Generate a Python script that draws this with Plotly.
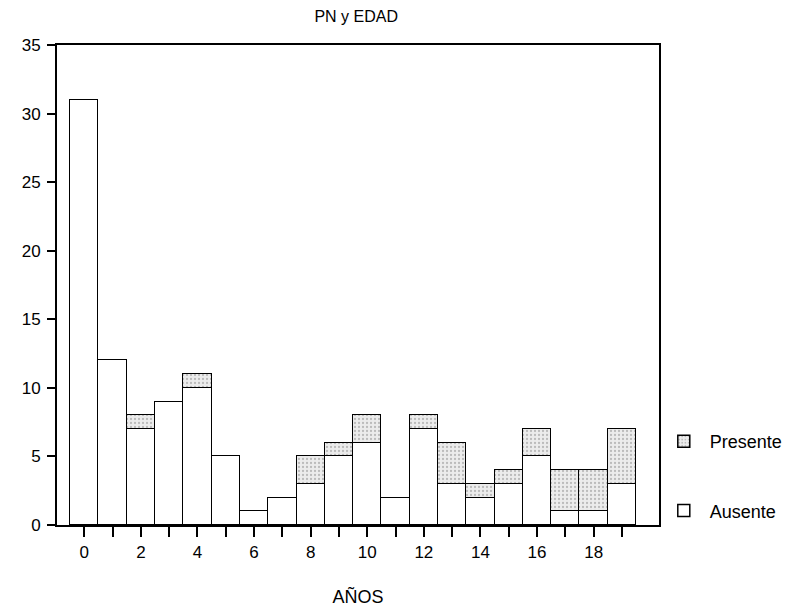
import plotly.graph_objects as go

ages = list(range(20))
ausente = [31, 12, 7, 9, 10, 5, 1, 2, 3, 5, 6, 2, 7, 3, 2, 3, 5, 1, 1, 3]
presente = [0, 0, 1, 0, 1, 0, 0, 0, 2, 1, 2, 0, 1, 3, 1, 1, 2, 3, 3, 4]
tick_labels = [str(a) if a % 2 == 0 else "" for a in ages]
y_ticks = [0, 5, 10, 15, 20, 25, 30, 35]

font = "Liberation Sans, Arial, Helvetica, sans-serif"

fig = go.Figure()
fig.add_trace(go.Bar(
    x=ages, y=ausente, name="Ausente", legendgroup="a", legendrank=2,
    marker=dict(color="white", line=dict(color="black", width=1.5)),
))
fig.add_trace(go.Bar(
    x=ages, y=presente, name="Presente", legendgroup="p", legendrank=1,
    marker=dict(color="#e4e4e4", line=dict(color="black", width=1.5),
                pattern=dict(shape=".", fgcolor="#8a8a8a", bgcolor="#ececec",
                             size=4, solidity=0.25)),
))

fig.update_layout(
    barmode="stack", bargap=0,
    width=802, height=599,
    paper_bgcolor="white", plot_bgcolor="white",
    margin=dict(l=49, r=151, t=37, b=82, autoexpand=False),
    font=dict(family=font, size=17, color="black"),
    title=dict(text="PN y EDAD", xref="paper", x=0.497, xanchor="center",
               yref="container", y=1.0, yanchor="top",
               pad=dict(t=3, b=0), font=dict(size=16)),
    showlegend=True,
    legend=dict(x=0.998, xanchor="left", y=0.2125, yanchor="top",
                traceorder="grouped", tracegroupgap=43,
                font=dict(size=18), itemwidth=42,
                bgcolor="rgba(0,0,0,0)"),
    xaxis=dict(
        range=[-0.965, 20.31], tickmode="array", tickvals=ages,
        ticktext=tick_labels, ticks="outside", ticklen=10, tickwidth=1.5,
        tickcolor="black", showline=True, linecolor="black", linewidth=2,
        mirror=True, showgrid=False, zeroline=False, automargin=False,
        title=dict(text="AÑOS", font=dict(size=18), standoff=29),
        tickfont=dict(size=17), ticklabelstandoff=1,
    ),
    yaxis=dict(
        range=[0, 35], tickmode="array", tickvals=y_ticks,
        ticks="outside", ticklen=8, tickwidth=1.5, tickcolor="black",
        showline=True, linecolor="black", linewidth=2, mirror=True,
        showgrid=False, zeroline=False, tickfont=dict(size=17),
        ticklabelstandoff=3, automargin=False,
    ),
)

fig.write_html("out.html")
